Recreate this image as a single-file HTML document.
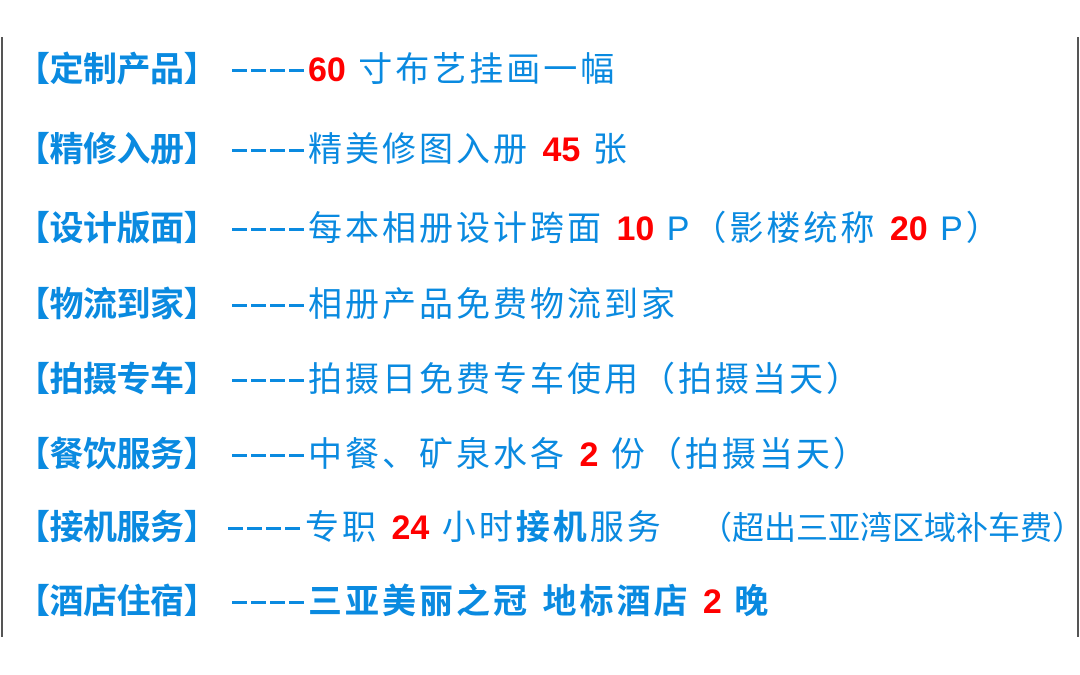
<!DOCTYPE html>
<html><head><meta charset="utf-8"><style>
html,body{margin:0;padding:0;background:#fff;}
body{width:1080px;height:675px;position:relative;overflow:hidden;font-family:"Liberation Sans","Noto Sans CJK SC",sans-serif;color:#0a8ae0;}
.bl{position:absolute;left:1px;top:37px;width:2px;height:600px;background:#555;}
.br{position:absolute;left:1077px;top:37px;width:2px;height:600px;background:#555;}
.row{position:absolute;left:0;height:40px;font-size:34px;line-height:40px;white-space:nowrap;}
.lab{position:absolute;left:16px;font-weight:bold;letter-spacing:-0.5px;}
.dash{position:absolute;left:232px;top:19px;width:74px;height:3px;background:repeating-linear-gradient(90deg,#0a8ae0 0 15px,transparent 15px 19px);}
.c{position:absolute;left:308px;letter-spacing:3px;}
.r{color:#f00;font-weight:bold;letter-spacing:0;}
b{font-weight:bold;}
</style></head><body>
<div class="bl"></div><div class="br"></div>
<div class="row" style="top:50px"><span class="lab">【定制产品】</span><span class="dash"></span><span class="c"><span class="r">60</span> 寸布艺挂画一幅</span></div>
<div class="row" style="top:130px"><span class="lab">【精修入册】</span><span class="dash"></span><span class="c">精美修图入册 <span class="r">45</span> 张</span></div>
<div class="row" style="top:209px"><span class="lab">【设计版面】</span><span class="dash"></span><span class="c">每本相册设计跨面 <span class="r">10</span> P（影楼统称 <span class="r">20</span> P）</span></div>
<div class="row" style="top:285px"><span class="lab">【物流到家】</span><span class="dash"></span><span class="c">相册产品免费物流到家</span></div>
<div class="row" style="top:360px"><span class="lab">【拍摄专车】</span><span class="dash"></span><span class="c">拍摄日免费专车使用（拍摄当天）</span></div>
<div class="row" style="top:435px"><span class="lab">【餐饮服务】</span><span class="dash"></span><span class="c">中餐、矿泉水各 <span class="r">2</span> 份（拍摄当天）</span></div>
<div class="row" style="top:508px"><span class="lab">【接机服务】</span><span class="dash" style="left:228px"></span><span class="c" style="left:305px">专职 <span class="r">24</span> 小时<b>接机</b>服务</span><span style="position:absolute;left:700px;font-size:32px;letter-spacing:0">（超出三亚湾区域补车费）</span></div>
<div class="row" style="top:582px"><span class="lab">【酒店住宿】</span><span class="dash"></span><span class="c" style="font-weight:bold">三亚美丽之冠 地标酒店 <span class="r">2</span> 晚</span></div>
</body></html>
